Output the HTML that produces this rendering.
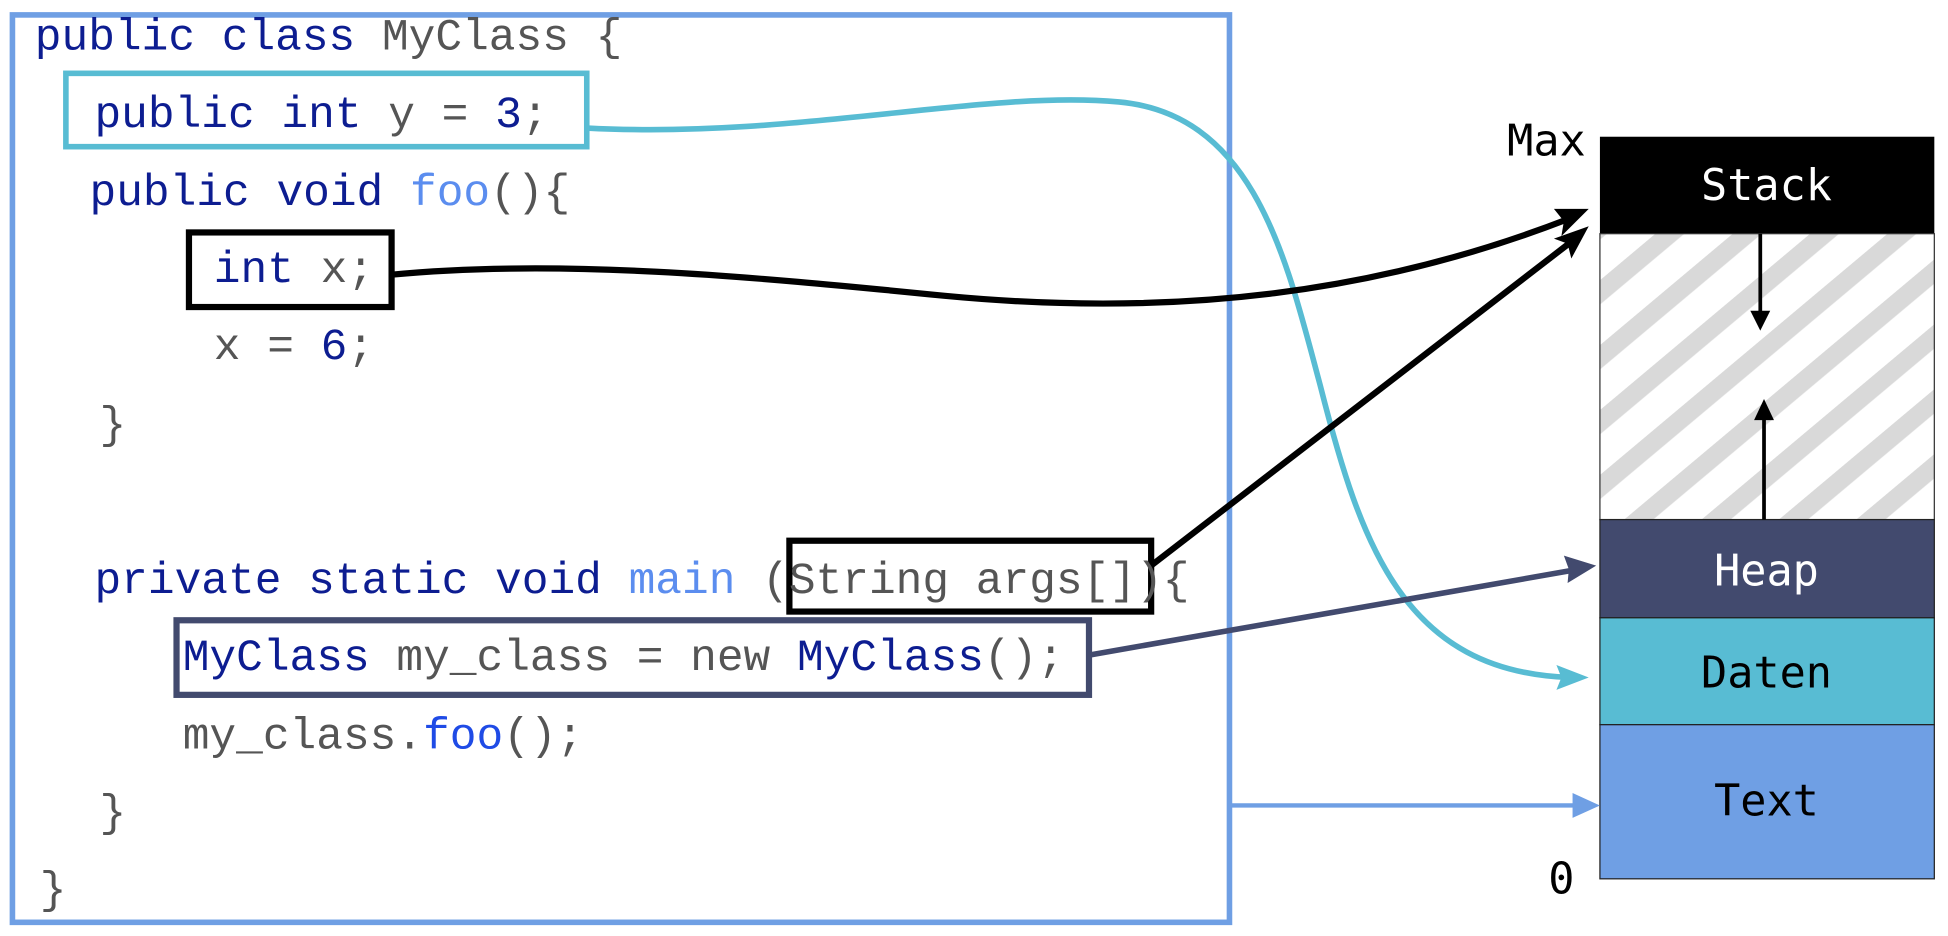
<!DOCTYPE html>
<html><head><meta charset="utf-8"><style>
html,body{margin:0;padding:0;background:#fff;width:1948px;height:936px;overflow:hidden}
svg{display:block}
.c{font-family:"Liberation Mono","Courier New",monospace;font-size:35.8px;fill:#555}
.k{fill:#0d1d91}.f{fill:#5b8def}.f2{fill:#1f4be6}
.m{font-family:"DejaVu Sans Mono",monospace;font-size:35px;text-anchor:middle}
</style></head><body>
<svg width="1948" height="936" viewBox="0 0 1567 753" preserveAspectRatio="none" xmlns="http://www.w3.org/2000/svg">
<defs>
<pattern id="h" patternUnits="userSpaceOnUse" width="40" height="40" patternTransform="rotate(-40)">
<rect width="40" height="40" fill="#fff"/><rect width="40" height="15" fill="#d9d9d9"/>
</pattern>
</defs>
<rect x="10" y="12" width="979" height="730" fill="none" stroke="#6f9fe4" stroke-width="4.5"/>
<rect x="53" y="59" width="419" height="59" fill="none" stroke="#58bcd3" stroke-width="4.5"/>
<rect x="152" y="187" width="163" height="60" fill="none" stroke="#000" stroke-width="5"/>
<rect x="635" y="435" width="291" height="57" fill="none" stroke="#000" stroke-width="5"/>
<rect x="142" y="499" width="734" height="60" fill="none" stroke="#424a6e" stroke-width="5"/>
<text class="c" x="28" y="40"><tspan class="k">public class</tspan> MyClass {</text>
<text class="c" x="76" y="102"><tspan class="k">public int</tspan> y = <tspan class="k">3</tspan>;</text>
<text class="c" x="72" y="165"><tspan class="k">public void</tspan> <tspan class="f">foo</tspan>(){</text>
<text class="c" x="172" y="227"><tspan class="k">int</tspan> x;</text>
<text class="c" x="172" y="289">x = <tspan class="k">6</tspan>;</text>
<text class="c" x="80" y="352">}</text>
<text class="c" x="76" y="477"><tspan class="k">private static void</tspan> <tspan class="f">main</tspan> (String args[]){</text>
<text class="c" x="147" y="539"><tspan class="k">MyClass</tspan> my_class = new <tspan class="k">MyClass</tspan>();</text>
<text class="c" x="147" y="602">my_class.<tspan class="f2">foo</tspan>();</text>
<text class="c" x="80" y="664">}</text>
<text class="c" x="32" y="726">}</text>
<rect x="1287" y="110" width="269" height="78" fill="#000"/>
<rect x="1287" y="188" width="269" height="230" fill="url(#h)" stroke="#333" stroke-width="1"/>
<rect x="1287" y="418" width="269" height="79" fill="#424a6e" stroke="#222" stroke-width="1"/>
<rect x="1287" y="497" width="269" height="86" fill="#58bcd3" stroke="#222" stroke-width="1"/>
<rect x="1287" y="583" width="269" height="124" fill="#6f9fe4" stroke="#222" stroke-width="1"/>
<text class="m" x="1421" y="161" fill="#fff">Stack</text>
<text class="m" x="1421" y="471" fill="#fff">Heap</text>
<text class="m" x="1421" y="553" fill="#000">Daten</text>
<text class="m" x="1421" y="656" fill="#000">Text</text>
<text class="m" x="1244" y="125" fill="#000">Max</text>
<text class="m" x="1256" y="719" fill="#000">0</text>
<line x1="1416" y1="188" x2="1416" y2="262" stroke="#000" stroke-width="3"/>
<path d="M1408,250 L1424,250 L1416,266 z" fill="#000"/>
<line x1="1419" y1="418" x2="1419" y2="336" stroke="#000" stroke-width="3"/>
<path d="M1411,338 L1427,338 L1419,321 z" fill="#000"/>
<path d="M472,103 C640,112 790,72 900,82 C1010,92 1035,210 1062,310 C1095,440 1130,540 1262,545" fill="none" stroke="#58bcd3" stroke-width="4.5"/>
<path d="M1278,545 L1252,535 L1256,545 L1252,555 z" fill="#58bcd3"/>
<path d="M315,221 C450,208 600,222 760,238 C950,256 1110,235 1262,176" fill="none" stroke="#000" stroke-width="5"/>
<path d="M1278,168 L1250,168 L1258,178 L1256,190 z" fill="#000"/>
<line x1="926" y1="455" x2="1262" y2="196" stroke="#000" stroke-width="5"/>
<path d="M1278,182 L1250,192 L1261,196 L1264,208 z" fill="#000"/>
<line x1="876" y1="527" x2="1264" y2="459" stroke="#424a6e" stroke-width="4.5"/>
<path d="M1284,455 L1258,447 L1262,458 L1261,469 z" fill="#424a6e"/>
<line x1="990" y1="648" x2="1266" y2="648" stroke="#6f9fe4" stroke-width="3.5"/>
<path d="M1287,648 L1265,638 L1265,658 z" fill="#6f9fe4"/>
</svg>
</body></html>
